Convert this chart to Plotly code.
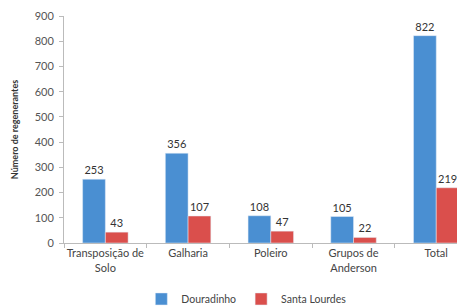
import plotly.graph_objects as go

categories = ["Transposição de<br>Solo", "Galharia", "Poleiro", "Grupos de<br>Anderson", "Total"]
douradinho = [253, 356, 108, 105, 822]
santa_lourdes = [43, 107, 47, 22, 219]

fig = go.Figure()
fig.add_bar(x=categories, y=douradinho, name="Douradinho", marker_color="#4A8FD2",
            text=douradinho, textposition="outside", textfont=dict(size=11, color="#333"),
            cliponaxis=False)
fig.add_bar(x=categories, y=santa_lourdes, name="Santa Lourdes", marker_color="#DA4F4C",
            text=santa_lourdes, textposition="outside", textfont=dict(size=11, color="#333"),
            cliponaxis=False)

fig.update_layout(
    width=465, height=307,
    margin=dict(l=56, r=2, t=8, b=72),
    paper_bgcolor="white", plot_bgcolor="white",
    barmode="group", bargap=0.45, bargroupgap=0,
    font=dict(family="Lato", size=11, color="#444"),
    showlegend=True,
    legend=dict(orientation="h", x=0.19, xanchor="left", y=0.005, yanchor="bottom",
                yref="container", font=dict(size=10.5), itemwidth=30, tracegroupgap=0),
    xaxis=dict(range=[-0.5, 4.42], showline=True, linecolor="#BBB", ticks="outside",
               tickson="boundaries", tickangle=0, automargin=False,
               tickcolor="#BBB", ticklen=4, tickfont=dict(size=11, color="#444")),
    yaxis=dict(range=[0, 900], dtick=100, showgrid=False, showline=True, linecolor="#BBB",
               ticks="outside", tickcolor="#BBB", ticklen=4, tickfont=dict(size=11, color="#555"),
               ticklabelstandoff=3, automargin=False,
               title=dict(text="<b>Número de regenerantes</b>", font=dict(size=9, color="#333"),
                          standoff=14)),
)
fig.write_html("out.html")
